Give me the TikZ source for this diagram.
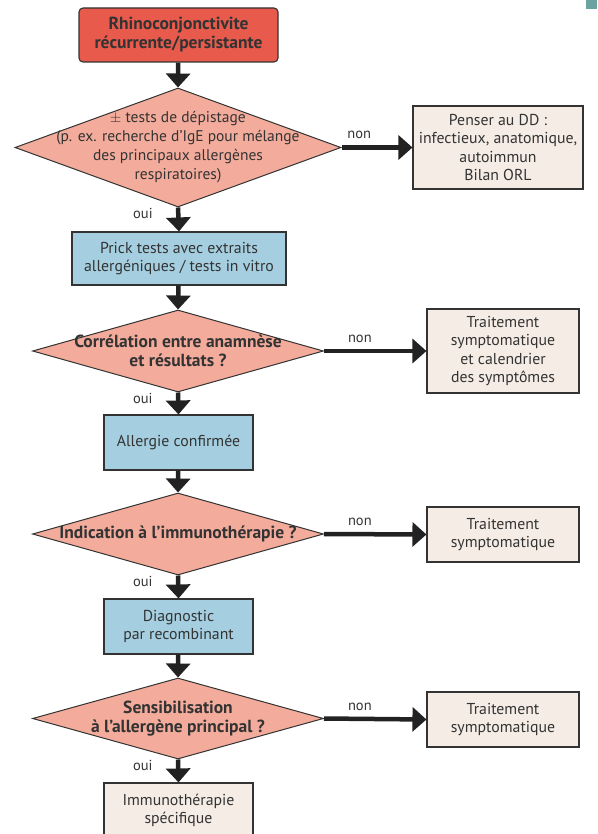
\documentclass[tikz,border=0pt]{standalone}
\usepackage{fontspec}
\setmainfont{PT Sans}
\usetikzlibrary{arrows.meta, shapes.geometric, positioning}
\definecolor{rouge}{HTML}{E85A4B}
\definecolor{saumon}{HTML}{F3AB9B}
\definecolor{bleu}{HTML}{A5CFE0}
\definecolor{beige}{HTML}{F5EDE5}
\definecolor{bord}{HTML}{333333}
\definecolor{texte}{HTML}{333333}
\definecolor{fleche}{HTML}{222222}
\definecolor{onglet}{HTML}{6BA3A0}

\begin{document}
\begin{tikzpicture}[x=1pt,y=-1pt]
\tikzset{
  box/.style={rectangle, draw=bord, line width=1.1pt, text=texte, align=center,
    inner sep=0pt, font=\fontsize{15.8}{18.5}\selectfont},
  losange/.style={diamond, draw=bord, line width=1pt, fill=saumon, inner sep=0pt},
  txt/.style={text=texte, align=center, font=\fontsize{15.5}{19}\selectfont},
  gras/.style={text=texte, align=center, font=\fontsize{17.5}{19}\selectfont\bfseries},
  flow/.style={line width=4.5pt, draw=fleche, -{Triangle[width=24pt,length=14pt]}},
  lbl/.style={text=texte, font=\fontsize{14.5}{16}\selectfont}
}
\useasboundingbox (0,0) rectangle (597,834);
\fill[onglet] (586,0) rectangle (597,9);

\node[box, gras, fill=rouge, rounded corners=4pt, minimum width=199pt, minimum height=54pt] (debut) at (178.5,35)
  {Rhinoconjonctivite\\récurrente/persistante};

\node[losange, minimum width=326pt, minimum height=119pt] (tri) at (178,147.5) {};
\node[txt] at (tri) {$\pm$ tests de dépistage\\(p. ex. recherche d’IgE pour mélange\\des principaux allergènes\\respiratoires)};
\node[box, fill=beige, minimum width=170pt, minimum height=83pt] (ddiff) at (498,147.5)
  {Penser au DD :\\infectieux, anatomique,\\autoimmun\\Bilan ORL};

\node[box, fill=bleu, minimum width=214pt, minimum height=53pt] (prick) at (179,258.5)
  {Prick tests avec extraits\\allergéniques / tests in vitro};

\node[losange, minimum width=291pt, minimum height=82pt] (correl) at (178,351) {};
\node[gras] at (correl) {Corrélation entre anamnèse\\et résultats ?};
\node[box, fill=beige, minimum width=152pt, minimum height=84pt] (calend) at (503,351)
  {Traitement\\symptomatique\\et calendrier\\des symptômes};

\node[box, fill=bleu, minimum width=149pt, minimum height=55pt] (confirm) at (178.5,442.5)
  {Allergie confirmée};

\node[losange, minimum width=291pt, minimum height=82pt] (indic) at (178,534) {};
\node[gras] at (indic) {Indication à l’immunothérapie ?};
\node[box, fill=beige, minimum width=152pt, minimum height=55pt] (sympA) at (503,534.5)
  {Traitement\\symptomatique};

\node[box, fill=bleu, minimum width=149pt, minimum height=55pt] (recomb) at (178.5,626.5)
  {Diagnostic\\par recombinant};

\node[losange, minimum width=291pt, minimum height=81pt] (sensib) at (178,718.5) {};
\node[gras] at (sensib) {Sensibilisation\\à l’allergène principal ?};
\node[box, fill=beige, minimum width=152pt, minimum height=55pt] (sympB) at (503,719.5)
  {Traitement\\symptomatique};

\node[box, fill=beige, minimum width=149pt, minimum height=55pt] (immuno) at (178.5,810.5)
  {Immunothérapie\\spécifique};

\draw[flow] (debut) -- (tri.north);
\draw[flow] (tri.east) -- node[lbl, above=3pt, pos=.25] {non} (ddiff.west);
\draw[flow] (tri.south) -- node[lbl, left=20pt, pos=.25] {oui} (prick.north);
\draw[flow] (prick) -- (correl.north);
\draw[flow] (correl.east) -- node[lbl, above=3pt, pos=.35] {non} (calend.west);
\draw[flow] (correl.south) -- node[lbl, left=20pt, pos=.25] {oui} (confirm.north);
\draw[flow] (confirm) -- (indic.north);
\draw[flow] (indic.east) -- node[lbl, above=3pt, pos=.35] {non} (sympA.west);
\draw[flow] (indic.south) -- node[lbl, left=20pt, pos=.25] {oui} (recomb.north);
\draw[flow] (recomb) -- (sensib.north);
\draw[flow] (sensib.east) -- node[lbl, above=3pt, pos=.35] {non} (sympB.west);
\draw[flow] (sensib.south) -- node[lbl, left=20pt, pos=.25] {oui} (immuno.north);
\end{tikzpicture}
\end{document}
